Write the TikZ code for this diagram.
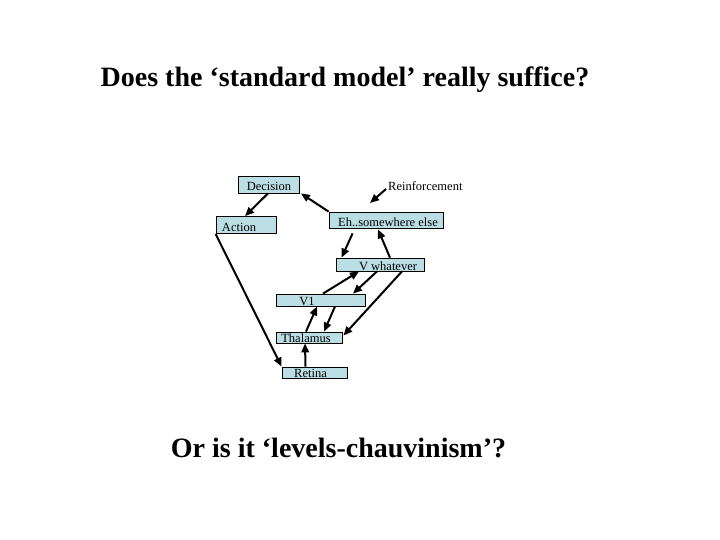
\documentclass[tikz,border=0pt]{standalone}
\usepackage{fontspec}
\setmainfont{Liberation Serif}
\usetikzlibrary{arrows.meta,calc}
\definecolor{boxblue}{RGB}{186,222,228}
\begin{document}
\begin{tikzpicture}[x=1pt,y=-1pt,
  box/.style={draw=black,fill=boxblue,line width=0.8pt,inner sep=0pt},
  lbl/.style={font=\fontsize{12.5}{14}\selectfont,inner sep=0pt,anchor=base},
  conn/.style={line width=2pt,-{Triangle[length=9pt,width=7.5pt]}},
  title/.style={font=\fontsize{28}{34}\selectfont\bfseries,inner sep=0pt,anchor=base}]
\fill[white] (0,0) rectangle (720,540);
\useasboundingbox (0,0) rectangle (720,540);
\node[title] (t1) at (345,87) {Does the ‘standard model’ really suffice?};
\node[title] (t2) at (338.5,457) {Or is it ‘levels-chauvinism’?};
\node[box,minimum width=61pt,minimum height=17pt,
  label={[lbl,yshift=3pt]south:Decision}] (dec) at (269,184.5) {};
\node[box,minimum width=60pt,minimum height=17pt,
  label={[lbl,xshift=-7pt,yshift=2.5pt]south:Action}] (act) at (246,225) {};
\node[box,minimum width=114pt,minimum height=16pt,
  label={[lbl,xshift=2pt,yshift=2pt]south:Eh..somewhere else}] (eh) at (386,220) {};
\node[box,minimum width=88pt,minimum height=13pt,
  label={[lbl,xshift=8pt,yshift=1pt]south:V whatever}] (vw) at (380,264.5) {};
\node[box,minimum width=89pt,minimum height=12pt,
  label={[lbl,xshift=-13.5pt,yshift=0.5pt]south:V1}] (v1) at (320.5,300) {};
\node[box,minimum width=66pt,minimum height=11pt,
  label={[lbl,xshift=-3pt,yshift=0.5pt]south:Thalamus}] (thal) at (309,337.5) {};
\node[box,minimum width=65pt,minimum height=11pt,
  label={[lbl,xshift=-4pt,yshift=0.5pt]south:Retina}] (ret) at (314.5,372.5) {};
\node[font=\fontsize{12.5}{14}\selectfont,inner sep=0pt,anchor=west] (reinf) at (388,186) {Reinforcement};
\coordinate (rtip) at (370,203);
\draw[conn] ($(dec.south)+(-1,0)$) -- ($(act.north)+(-1,0)$);
\draw[conn] (eh.north west) -- ($(dec.south east)+(1,0)$);
\draw[conn] ($(reinf.west)+(-2,3)$) -- (rtip);
\draw[conn] ($(eh.south west)+(24,5)$) -- ($(vw.north west)+(6,0)$);
\draw[conn] ($(vw.north)+(10,0)$) -- ($(eh.south)+(-8,1)$);
\draw[conn] (act.south west) -- (ret.north west);
\draw[conn] ($(v1.north)+(2.5,0)$) -- ($(vw.south)+(-21,0)$);
\draw[conn] ($(vw.south)+(-3,0)$) -- ($(v1.north)+(32.5,0)$);
\draw[conn] ($(vw.south)+(22,0)$) -- ($(thal.east)+(1,-2)$);
\draw[conn] ($(thal.north)+(-3,0)$) -- ($(v1.south)+(-3.5,0)$);
\draw[conn] ($(v1.south)+(14.5,0)$) -- ($(thal.north)+(15,0)$);
\draw[conn] ($(ret.north)+(-9,0)$) -- ($(thal.south)+(-4,0)$);
\end{tikzpicture}
\end{document}
